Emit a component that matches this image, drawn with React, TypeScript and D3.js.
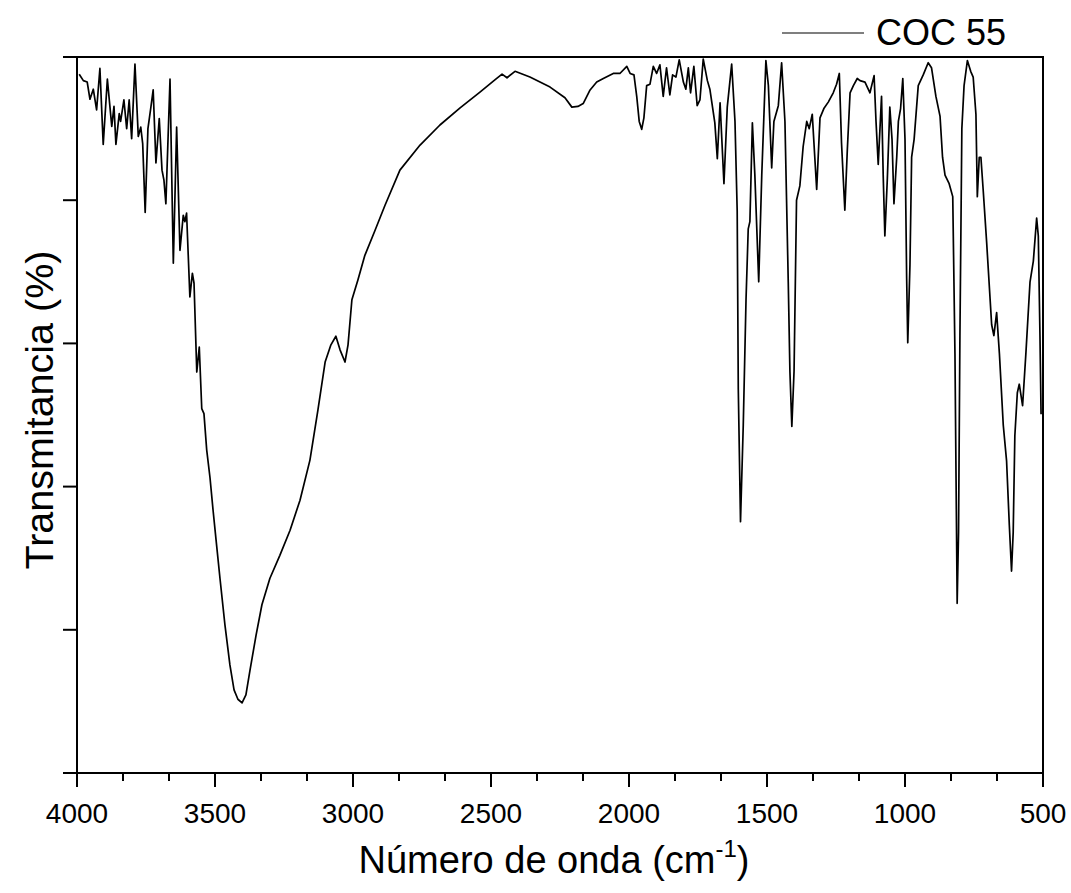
import React from "react";
import * as d3 from "d3";

const wavenumbers: number[] = [
  3992, 3977, 3963, 3953, 3941, 3929, 3917, 3905, 3890, 3874, 3866, 3859, 3847, 3842, 3830, 3820, 3811, 3802, 3790, 3778,
  3769, 3762, 3753, 3743, 3733, 3724, 3714, 3702, 3692, 3685, 3678, 3663, 3651, 3639, 3627, 3615, 3609, 3603, 3591, 3582,
  3576, 3566, 3557, 3548, 3540, 3530, 3518, 3507, 3496, 3482, 3464, 3446, 3431, 3417, 3402, 3388, 3373, 3351, 3330, 3301,
  3265, 3228, 3192, 3156, 3127, 3101, 3080, 3062, 3047, 3029, 3018, 3004, 2982, 2957, 2920, 2884, 2830, 2757, 2685, 2612,
  2540, 2486, 2460, 2442, 2413, 2359, 2286, 2232, 2207, 2185, 2166, 2141, 2117, 2093, 2057, 2033, 2008, 1996, 1982, 1972,
  1963, 1954, 1946, 1936, 1924, 1912, 1900, 1888, 1876, 1864, 1852, 1842, 1830, 1818, 1803, 1794, 1785, 1777, 1765, 1753,
  1743, 1731, 1716, 1707, 1689, 1680, 1670, 1656, 1644, 1628, 1616, 1608, 1604, 1596, 1586, 1576, 1568, 1562, 1553, 1544,
  1530, 1519, 1504, 1495, 1483, 1475, 1459, 1447, 1435, 1423, 1417, 1410, 1402, 1393, 1381, 1369, 1356, 1347, 1336, 1320,
  1308, 1294, 1278, 1260, 1248, 1238, 1230, 1218, 1209, 1199, 1187, 1173, 1163, 1145, 1127, 1112, 1105, 1097, 1085, 1079,
  1073, 1064, 1055, 1047, 1040, 1030, 1024, 1016, 1008, 1000, 994, 990, 982, 976, 967, 952, 934, 916, 904, 888,
  873, 864, 855, 840, 827, 819, 815, 811, 806, 801, 794, 786, 774, 762, 753, 743, 738, 731, 725, 716,
  704, 686, 678, 668, 658, 644, 632, 622, 614, 608, 602, 593, 586, 574, 562, 547, 535, 523, 517, 511,
  507,
];

const transmittance: number[] = [
  97.6, 96.7, 96.5, 94.1, 95.5, 92.6, 98.4, 87.8, 96.9, 90.3, 93.1, 87.8, 92.1, 91.0, 94.0, 90.0, 94.0, 88.6, 99.0, 88.9,
  90.2, 87.9, 78.3, 90.0, 92.8, 95.4, 85.2, 91.4, 84.2, 82.8, 79.5, 96.9, 71.2, 90.2, 73.0, 77.9, 77.0, 78.2, 66.5, 69.8,
  68.4, 56.0, 59.5, 50.9, 50.2, 45.1, 41.2, 36.7, 32.5, 27.2, 20.7, 15.1, 11.6, 10.3, 9.8, 10.9, 14.4, 19.3, 23.5, 27.2,
  30.4, 33.9, 38.1, 43.7, 50.7, 57.4, 59.8, 61.0, 59.1, 57.4, 59.8, 66.1, 68.9, 72.3, 75.8, 79.3, 84.2, 87.7, 90.5, 92.9,
  95.1, 96.8, 97.6, 97.1, 98.0, 97.2, 95.8, 94.3, 93.0, 93.1, 93.5, 95.4, 96.5, 97.0, 97.7, 97.7, 98.7, 97.7, 97.5, 94.5,
  91.0, 89.9, 91.5, 96.0, 96.2, 98.7, 97.7, 98.9, 94.5, 98.5, 94.7, 97.5, 97.2, 99.6, 96.5, 95.5, 98.5, 95.0, 98.7, 93.2,
  94.0, 99.7, 96.7, 95.5, 90.8, 85.8, 93.6, 82.3, 93.0, 99.0, 91.0, 78.5, 53.6, 35.1, 48.6, 66.1, 76.0, 77.0, 90.8, 83.5,
  68.6, 83.5, 99.5, 96.0, 84.5, 91.0, 93.2, 99.2, 91.0, 68.6, 56.1, 48.4, 56.1, 80.0, 82.0, 87.5, 91.0, 90.0, 92.0, 81.5,
  91.5, 92.8, 93.7, 95.0, 96.2, 97.7, 88.0, 78.6, 87.0, 95.0, 96.0, 97.0, 96.7, 96.5, 95.0, 97.4, 91.0, 85.0, 94.5, 83.5,
  75.0, 83.0, 93.0, 88.5, 79.5, 86.0, 91.0, 92.8, 97.0, 88.5, 69.1, 60.1, 71.0, 86.0, 88.5, 96.0, 97.5, 99.2, 98.5, 94.5,
  91.7, 86.0, 83.5, 82.3, 80.5, 58.6, 41.1, 23.7, 33.6, 61.1, 90.0, 96.0, 99.5, 98.0, 97.2, 92.0, 80.5, 86.0, 86.0, 81.0,
  74.0, 62.6, 61.1, 64.3, 58.6, 48.6, 43.6, 34.6, 28.2, 33.6, 47.1, 53.1, 54.3, 51.3, 58.6, 68.6, 71.5, 77.5, 75.0, 61.1,
  50.1,
];

const xMajorTicks: number[] = [4000, 3500, 3000, 2500, 2000, 1500, 1000, 500];
const yTicks: number[] = [0, 20, 40, 60, 80, 100];
const seriesName = "COC 55";

const W = 1071;
const H = 893;
const L = 77;
const R = 1043;
const T = 57;
const B = 773;
const FONT = "'Liberation Sans', Arial, Helvetica, sans-serif";

export default function App() {
  const x = d3.scaleLinear().domain([4000, 500]).range([L, R]);
  const y = d3.scaleLinear().domain([0, 100]).range([B, T]);

  const data = wavenumbers.map((w, i) => [w, transmittance[i]] as [number, number]);
  const line = d3
    .line<[number, number]>()
    .x((d) => x(d[0]))
    .y((d) => y(d[1]));

  const minorTicks: number[] = [];
  for (let i = 0; i < xMajorTicks.length - 1; i++) {
    const a = xMajorTicks[i];
    const b = xMajorTicks[i + 1];
    minorTicks.push(a + (b - a) / 3, a + (2 * (b - a)) / 3);
  }

  return (
    <svg
      width={W}
      height={H}
      style={{ position: "absolute", left: 0, top: 0, background: "#fff" }}
      fontFamily={FONT}
    >
      <rect x={0} y={0} width={W} height={H} fill="#fff" />
      <path d={line(data) || ""} fill="none" stroke="#000" strokeWidth={1.7} strokeLinejoin="round" />
      {/* frame */}
      <rect x={L} y={T} width={R - L} height={B - T} fill="none" stroke="#000" strokeWidth={2} />
      {/* x ticks */}
      {xMajorTicks.map((t) => (
        <g key={"mx" + t}>
          <line x1={x(t)} x2={x(t)} y1={B} y2={B + 14} stroke="#000" strokeWidth={2} />
          <text x={x(t)} y={823} textAnchor="middle" fontSize={28} fill="#000">
            {t}
          </text>
        </g>
      ))}
      {minorTicks.map((t, i) => (
        <line key={"mn" + i} x1={x(t)} x2={x(t)} y1={B} y2={B + 8} stroke="#000" strokeWidth={2} />
      ))}
      {/* y ticks */}
      {yTicks.map((t) => (
        <line key={"y" + t} x1={L - 14} x2={L} y1={y(t)} y2={y(t)} stroke="#000" strokeWidth={2} />
      ))}
      {/* x title */}
      <text x={(L + R) / 2 - 6} y={873} textAnchor="middle" fontSize={38} fill="#000">
        Número de onda (cm
        <tspan fontSize={24} dy={-16}>-1</tspan>
        <tspan dy={16}>)</tspan>
      </text>
      {/* y title */}
      <text
        transform={`translate(53, ${(T + B) / 2 - 5}) rotate(-90)`}
        textAnchor="middle"
        fontSize={39.5}
        fill="#000"
      >
        Transmitancia (%)
      </text>
      {/* legend */}
      <line x1={782} x2={864} y1={33} y2={33} stroke="#000" strokeWidth={1.2} />
      <text x={876} y={45} fontSize={36} fill="#000">
        {seriesName}
      </text>
    </svg>
  );
}
